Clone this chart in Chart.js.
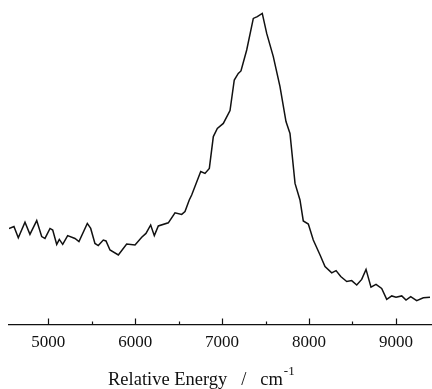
<!DOCTYPE html>
<html>
<head>
<meta charset="utf-8">
<script src="https://cdn.jsdelivr.net/npm/chart.js@4.4.1/dist/chart.umd.min.js"></script>
<style>
  html, body { margin: 0; padding: 0; background: #fff; }
  #wrap { width: 432px; height: 389px; position: relative; }
</style>
</head>
<body>
<div id="wrap"><canvas id="spec"></canvas></div>
<script>
  // energies in cm-1, intensity in arbitrary units
  const energy = [
    4548, 4605, 4655, 4732, 4789, 4867, 4924, 4962, 5020, 5051,
    5097, 5127, 5166, 5223, 5307, 5353, 5449, 5488, 5537, 5575,
    5633, 5664, 5710, 5806, 5902, 5998, 6075, 6124, 6178, 6220,
    6266, 6381, 6458, 6535, 6573, 6622, 6650, 6754, 6803, 6853,
    6899, 6945, 7014, 7091, 7140, 7186, 7217, 7283, 7359, 7405,
    7462, 7513, 7589, 7666, 7735, 7781, 7839, 7896, 7934, 7992,
    8049, 8127, 8184, 8261, 8311, 8365, 8434, 8491, 8549, 8606,
    8656, 8713, 8771, 8836, 8894, 8952, 9001, 9067, 9116, 9170,
    9239, 9315, 9392
  ];
  const intensity = [
    30.9, 31.5, 27.9, 32.9, 29.0, 33.4, 28.3, 27.7, 30.9, 30.4,
    25.8, 27.4, 25.8, 28.6, 27.7, 26.7, 32.5, 30.9, 26.1, 25.4,
    27.2, 26.9, 24.0, 22.4, 25.9, 25.6, 28.1, 29.3, 32.0, 28.6,
    31.7, 32.7, 35.9, 35.4, 36.3, 40.0, 41.6, 49.1, 48.5, 50.1,
    60.3, 62.9, 64.5, 68.6, 78.4, 80.5, 81.3, 88.0, 98.1, 98.7,
    99.7, 93.3, 85.9, 76.3, 65.1, 61.3, 45.3, 40.0, 33.3, 32.3,
    27.2, 22.4, 18.7, 16.7, 17.4, 15.5, 13.9, 14.2, 12.8, 14.6,
    17.8, 12.1, 13.0, 11.7, 8.2, 9.3, 8.9, 9.3, 8.0, 9.1,
    7.8, 8.7, 8.9
  ];
  const tickValues = [5000, 5500, 6000, 6500, 7000, 7500, 8000, 8500, 9000];
  const xMin = 4548, xMax = 9415;
  const xTitle = 'Relative Energy   /   cm';
  const xTitleSup = '-1';

  const serif = "'Liberation Serif', 'DejaVu Serif', serif";

  // ticks on this scan point up into the plot, so draw them ourselves
  const inwardTicks = {
    id: 'inwardTicks',
    afterDraw(chart) {
      const sc = chart.scales.x;
      const ctx = chart.ctx;
      const base = chart.chartArea.bottom;
      ctx.save();
      ctx.strokeStyle = '#111';
      ctx.lineWidth = 1.2;
      sc.ticks.forEach(t => {
        const px = Math.round(sc.getPixelForValue(t.value)) + 0.5;
        const len = t.value % 1000 === 0 ? 6.5 : 3.5;
        ctx.beginPath();
        ctx.moveTo(px, base);
        ctx.lineTo(px, base - len);
        ctx.stroke();
      });
      // axis title with superscript
      ctx.fillStyle = '#111';
      ctx.textBaseline = 'alphabetic';
      ctx.textAlign = 'left';
      ctx.font = '18.5px ' + serif;
      const x0 = 108, y0 = 385;
      ctx.fillText(xTitle, x0, y0);
      const w = ctx.measureText(xTitle).width;
      ctx.font = '13px ' + serif;
      ctx.fillText(xTitleSup, x0 + w + 1, y0 - 10);
      ctx.restore();
    }
  };

  new Chart(document.getElementById('spec'), {
    type: 'line',
    data: {
      datasets: [{
        data: energy.map((e, i) => ({ x: e, y: intensity[i] })),
        borderColor: '#111',
        borderWidth: 1.5,
        pointRadius: 0,
        tension: 0,
        fill: false
      }]
    },
    options: {
      responsive: true,
      maintainAspectRatio: false,
      animation: false,
      layout: { padding: { left: 9, right: 0, top: 0, bottom: 34 } },
      plugins: { legend: { display: false }, tooltip: { enabled: false } },
      scales: {
        x: {
          type: 'linear',
          min: xMin,
          max: xMax,
          grid: { display: false },
          border: { display: true, color: '#111', width: 1.3 },
          afterBuildTicks: s => { s.ticks = tickValues.map(v => ({ value: v })); },
          afterFit: s => { s.height = 30; },
          ticks: {
            autoSkip: false,
            maxRotation: 0,
            padding: -1,
            color: '#111',
            font: { family: serif, size: 17 },
            callback: v => (v % 1000 === 0 ? String(v) : '')
          }
        },
        y: { display: false, min: 0, max: 104 }
      }
    },
    plugins: [inwardTicks]
  });
</script>
</body>
</html>
